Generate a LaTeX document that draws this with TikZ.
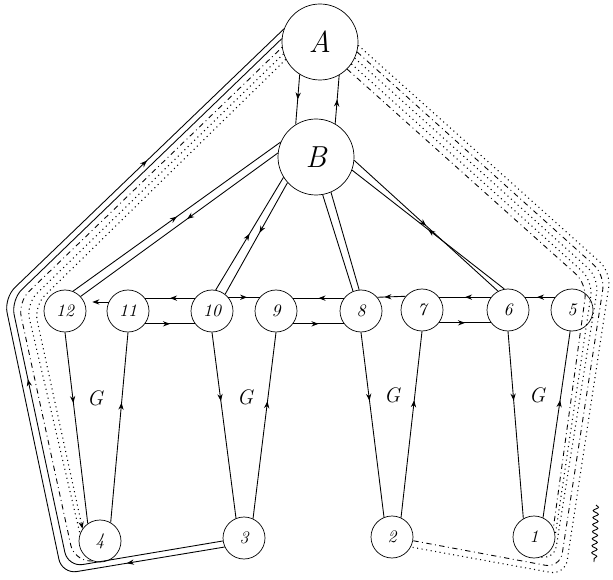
\documentclass[tikz,border=0pt]{standalone}
\usepackage{tikz}
\usetikzlibrary{arrows.meta,decorations.markings,decorations.pathmorphing}

\begin{document}
\begin{tikzpicture}[x=0.2mm, y=-0.2mm,
    stn/.style={draw, circle, minimum size=8.4mm, inner sep=0pt, font=\itshape},
    hub/.style={draw, circle, minimum size=15.2mm, inner sep=0pt, font=\LARGE\itshape},
    wire/.style={line width=0.5pt},
    dots/.style={line width=0.6pt, dotted},
    ddots/.style={line width=0.5pt, dash dot},
    ar/.style={postaction={decorate, decoration={markings, mark=at position #1 with {\arrow{Stealth[length=4pt,width=3pt]}}}}},
    lbl/.style={font=\large\itshape}
]
\useasboundingbox (0,0) rectangle (613,580);

\node[hub] (A) at (320,42) {A};
\node[hub] (B) at (316,157) {B};

\node[stn] (n12) at (65,311) {12};
\node[stn] (n11) at (128,311) {11};
\node[stn] (n10) at (212,311) {10};
\node[stn] (n9) at (276,311) {9};
\node[stn] (n8) at (361,311) {8};
\node[stn] (n7) at (422,310) {7};
\node[stn] (n6) at (508,310) {6};
\node[stn] (n5) at (572,310) {5};

\node[stn] (n4) at (100,541) {4};
\node[stn] (n3) at (244,538) {3};
\node[stn] (n2) at (392,537) {2};
\node[stn] (n1) at (534,537) {1};

\node[lbl] (g1) at (95,398) {G};
\node[lbl] (g2) at (245,397) {G};
\node[lbl] (g3) at (392,395) {G};
\node[lbl] (g4) at (537,395) {G};

% A and B
\draw[wire, ar=0.5] (A.-122) -- (B.122);
\draw[wire, ar=0.5] (B.60) -- (A.-60);

% B to the row
\draw[wire, ar=0.5] (n12.68) -- (B.157);
\draw[wire, ar=0.46] (B.174) -- (n12.43);
\draw[wire, ar=0.5] (n10.80) -- (B.212);
\draw[wire, ar=0.45] (B.222) -- (n10.52);
\draw[wire] (B.-80) -- (n8.112);
\draw[wire] (n8.95) -- (B.-67);
\draw[wire, ar=0.5] (B.-5) -- (n6.118);
\draw[wire, ar=0.5] (n6.100) -- (B.-20);

% row
\draw[wire, -{Stealth[length=4pt,width=3pt]}, shorten >=1.6mm] (n11.155) -- (n12.25);
\draw[wire, ar=0.5] (n10.143) -- (n11.37);
\draw[wire, ar=0.5] (n11.-37) -- (n10.-143);
\draw[wire, ar=0.6] (n10.40) -- (n9.140);
\draw[wire, ar=0.5] (n8.143) -- (n9.37);
\draw[wire, ar=0.5] (n9.-37) -- (n8.-143);
\draw[wire, ar=0.75] (n7.140) -- (n8.40);
\draw[wire, ar=0.5] (n6.143) -- (n7.37);
\draw[wire, ar=0.5] (n7.-37) -- (n6.-143);
\draw[wire, ar=0.6] (n5.143) -- (n6.37);

% down to the bottom row
\draw[wire, ar=0.37] (n12.-90) -- (n4.125);
\draw[wire, ar=0.63] (n4.60) -- (n11.-90);
\draw[wire, ar=0.37] (n10.-90) -- (n3.112);
\draw[wire, ar=0.63] (n3.65) -- (n9.-90);
\draw[wire, ar=0.37] (n8.-90) -- (n2.112);
\draw[wire, ar=0.63] (n2.65) -- (n7.-90);
\draw[wire, ar=0.37] (n6.-90) -- (n1.120);
\draw[wire, ar=0.63] (n1.65) -- (n5.-95);

% left round
\draw[wire, rounded corners=3mm, ar=0.12, ar=0.77] (n3.205) -- (62,574) -- (4,298) -- (A.160);
\draw[wire, rounded corners=3mm, ar=0.43] (n3.188) -- (68,567) -- (11,300) -- (A.175);
\draw[ddots, rounded corners=3mm] (n4.-110) -- (74,560) -- (18,302) -- (A.188);
\draw[dots, rounded corners=3mm] (A.198) -- (26,304) -- (n4.160);
\draw[dots, rounded corners=3mm, -{Stealth[length=4pt,width=3pt]}] (A.207) -- (34,306) -- (n4.145);

% right round
\draw[dots, rounded corners=3mm] (A.-5) -- (611,272) -- (565,575) -- (n2.-28);
\draw[ddots, rounded corners=3mm] (A.-15) -- (605,275) -- (560,568) -- (n2.-10);
\draw[dots, rounded corners=3mm] (A.-25) -- (599,278) -- (554,561) -- (n1.-70);
\draw[dots, rounded corners=3mm] (A.-35) -- (593,281) -- (n1.5);
\draw[ddots, rounded corners=3mm] (A.-45) -- (587,284) -- (n1.25);

% mark
\draw[wire, decorate, decoration={snake, amplitude=1.5pt, segment length=4pt}] (596,505) -- (594,562);
\end{tikzpicture}
\end{document}
